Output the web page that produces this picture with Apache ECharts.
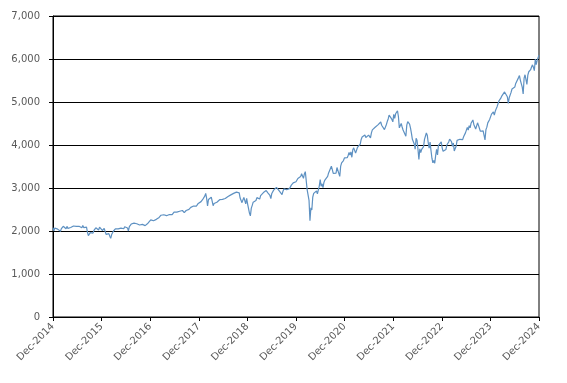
<!DOCTYPE html>
<html><head><meta charset="utf-8">
<script src="https://cdn.jsdelivr.net/npm/echarts@6/dist/echarts.min.js"></script>
<style>html,body{margin:0;padding:0;background:#fff}#c{width:567px;height:383px}</style>
</head><body><div id="c"></div>
<script>
// Weekly closes (Friday), first point early Dec 2014, last point early Dec 2024
var y2014 = [2075, 2002, 2070, 2088];
var y2015 = [2058, 2044, 2019, 2051, 1995, 2055, 2097, 2110, 2104, 2071, 2053, 2108, 2061, 2067, 2102, 2081, 2117,
  2108, 2116, 2123, 2126, 2107, 2092, 2094, 2110, 2101, 2077, 2077, 2126, 2079, 2104, 2078, 2092, 1971, 1893,
  1921, 1961, 1958, 1931, 1951, 2015, 2033, 2075, 2079, 2099, 2023, 2089, 2090, 2092, 2012, 2006, 2061, 2044];
var y2016 = [1922, 1880, 1907, 1940, 1880, 1829, 1918, 1948, 2000, 2022, 2050, 2035, 2073, 2048, 2081, 2092, 2065,
  2057, 2047, 2052, 2099, 2099, 2096, 2071, 2001, 2103, 2130, 2162, 2175, 2173, 2183, 2184, 2184, 2169,
  2180, 2128, 2139, 2165, 2168, 2153, 2133, 2141, 2126, 2085, 2164, 2182, 2213, 2192, 2260, 2258, 2264, 2239];
var y2017 = [2277, 2275, 2271, 2295, 2297, 2316, 2351, 2367, 2383, 2373, 2378, 2344, 2363, 2356, 2329, 2349, 2384,
  2399, 2391, 2382, 2416, 2439, 2432, 2433, 2438, 2423, 2425, 2459, 2473, 2472, 2477, 2441, 2426, 2443,
  2477, 2461, 2500, 2502, 2519, 2549, 2553, 2575, 2581, 2588, 2582, 2579, 2602, 2642, 2652, 2676, 2683, 2674];
var y2018 = [2743, 2786, 2810, 2873, 2762, 2581, 2732, 2747, 2691, 2786, 2752, 2588, 2641, 2604, 2656, 2670, 2670,
  2663, 2728, 2713, 2721, 2735, 2779, 2780, 2755, 2718, 2760, 2801, 2802, 2819, 2840, 2833, 2850, 2875, 2902,
  2872, 2905, 2930, 2914, 2886, 2767, 2768, 2659, 2723, 2781, 2736, 2633, 2760, 2633, 2600, 2417, 2351];
var y2019 = [2532, 2596, 2671, 2665, 2707, 2708, 2776, 2793, 2804, 2743, 2822, 2801, 2834, 2893, 2907, 2905, 2940,
  2946, 2881, 2860, 2826, 2752, 2873, 2887, 2950, 2942, 2990, 3014, 2977, 3026, 2932, 2919, 2889, 2847, 2926,
  2979, 3007, 2992, 2962, 2952, 2970, 2986, 3023, 3067, 3093, 3120, 3110, 3141, 3146, 3169, 3221, 3240];
var y2020 = [3235, 3265, 3330, 3295, 3226, 3328, 3380, 3386, 2954, 2972, 2711, 2237, 2541, 2489, 2790, 2875, 2837,
  2831, 2930, 2864, 2955, 3044, 3194, 3041, 3098, 3009, 3130, 3185, 3225, 3216, 3271, 3351, 3373, 3397, 3508,
  3427, 3341, 3319, 3298, 3348, 3477, 3484, 3465, 3270, 3510, 3585, 3558, 3638, 3699, 3663, 3709, 3703, 3756];
var y2021 = [3825, 3768, 3841, 3714, 3887, 3934, 3907, 3811, 3842, 3943, 3913, 3975, 4020, 4129, 4185, 4180, 4181,
  4233, 4174, 4156, 4204, 4230, 4247, 4166, 4281, 4352, 4370, 4327, 4412, 4395, 4437, 4468, 4442, 4509,
  4535, 4459, 4433, 4455, 4357, 4391, 4471, 4545, 4605, 4697, 4683, 4698, 4595, 4538, 4712, 4620, 4726, 4766];
var y2022 = [4797, 4663, 4398, 4432, 4500, 4419, 4349, 4385, 4329, 4204, 4463, 4543, 4546, 4488, 4393, 4272, 4132,
  4123, 4024, 3901, 4158, 4109, 3901, 3666, 3912, 3825, 3899, 3863, 3962, 4130, 4145, 4280, 4228, 4058,
  3924, 4067, 3873, 3693, 3586, 3640, 3577, 3752, 3901, 3771, 3993, 3965, 4026, 4072, 3934, 3852, 3845, 3840];
var y2023 = [3895, 3999, 3973, 4071, 4136, 4090, 4079, 3970, 4046, 3862, 3917, 3971, 4109, 4105, 4138, 4133, 4169,
  4136, 4124, 4192, 4205, 4282, 4299, 4410, 4348, 4450, 4399, 4505, 4536, 4582, 4478, 4464, 4370, 4406,
  4516, 4457, 4450, 4320, 4288, 4308, 4327, 4224, 4117, 4358, 4415, 4514, 4559, 4595, 4604, 4719, 4755, 4770];
var y2024 = [4697, 4784, 4840, 4891, 4959, 5027, 5006, 5089, 5137, 5124, 5117, 5234, 5254, 5204, 5123, 4967, 5100,
  5128, 5223, 5303, 5305, 5278, 5347, 5431, 5465, 5460, 5567, 5615, 5505, 5459, 5346, 5186, 5554, 5634, 5648,
  5408, 5626, 5703, 5738, 5751, 5815, 5864, 5808, 5729, 5995, 5870, 5969, 6032, 6090];
var tickYears = [2014, 2015, 2016, 2017, 2018, 2019, 2020, 2021, 2022, 2023, 2024];
var weeksPerYear = 52.2;

var values = [].concat(y2014, y2015, y2016, y2017, y2018, y2019, y2020, y2021, y2022, y2023, y2024);
var data = values.map(function (v, i) { return [i, v]; });

var chart = echarts.init(document.getElementById('c'), null, {renderer: 'canvas'});
var font = 'DejaVu Sans';
chart.setOption({
  animation: false,
  grid: {left: 53, right: 28, top: 16, bottom: 66, show: true, borderColor: '#000', borderWidth: 1},
  xAxis: {
    type: 'value', min: 0, max: weeksPerYear * (tickYears.length - 1), interval: weeksPerYear,
    axisLine: {lineStyle: {color: '#000', width: 1}},
    axisTick: {show: true, length: 4, lineStyle: {color: '#000'}},
    splitLine: {show: false},
    axisLabel: {
      rotate: 45, margin: 8, color: '#595959', fontFamily: font, fontSize: 10,
      showMaxLabel: true, showMinLabel: true,
      formatter: function (v) { return 'Dec-' + tickYears[Math.round(v / weeksPerYear)]; }
    }
  },
  yAxis: {
    type: 'value', min: 0, max: 7000, interval: 1000,
    axisLine: {show: true, lineStyle: {color: '#000', width: 1}},
    axisTick: {show: true, length: 4, lineStyle: {color: '#000'}},
    splitLine: {lineStyle: {color: '#000', width: 1}},
    axisLabel: {
      margin: 13, color: '#595959', fontFamily: font, fontSize: 10,
      formatter: function (v) { return v.toLocaleString('en-US'); }
    }
  },
  series: [{
    type: 'line', data: data, showSymbol: false, symbol: 'none',
    lineStyle: {color: '#5e91c2', width: 1.2}
  }]
});
</script></body></html>
